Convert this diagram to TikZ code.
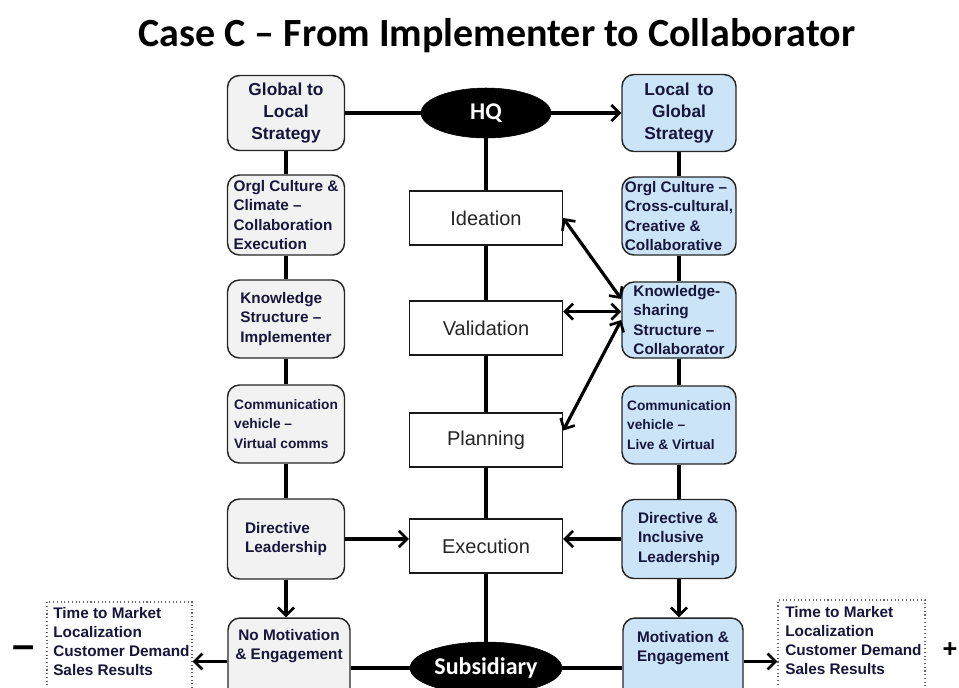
\documentclass[tikz,border=0pt]{standalone}
\usepackage{fontspec}
\setmainfont{Liberation Sans}
\newfontfamily\calibri{Carlito}
\usetikzlibrary{shapes.geometric,arrows.meta}
\definecolor{grayfill}{RGB}{242,242,242}
\definecolor{bluefill}{RGB}{204,228,248}
\definecolor{navy}{RGB}{22,22,60}
\begin{document}
\begin{tikzpicture}[x=0.75pt,y=-0.75pt,
 sidebox/.style={draw=black!85, line width=1.1pt, rounded corners=9pt, inner sep=0pt},
 lbox/.style={sidebox, fill=grayfill},
 rbox/.style={sidebox, fill=bluefill},
 lbl/.style={font=\bfseries\fontsize{11.5}{14.5}\selectfont, text=navy, align=left},
 smlbl/.style={font=\bfseries\fontsize{10.3}{14.5}\selectfont, text=navy, align=left},
 clbl/.style={font=\bfseries\fontsize{13}{16.3}\selectfont, text=navy, align=center},
 stage/.style={draw=black!90, line width=1pt, fill=white, minimum width=114.75pt, minimum height=40.5pt, inner sep=0pt, font=\fontsize{15}{18}\selectfont, text=black!85},
 hub/.style={ellipse, fill=black, draw=black, text=white, font=\calibri\bfseries\fontsize{18}{21}\selectfont, inner sep=0pt},
 conn/.style={line width=2.4pt, draw=black},
 arr/.style={conn, -{Straight Barb[length=6pt,width=12pt,line width=2pt]}},
 darr/.style={conn, {Straight Barb[length=6pt,width=12pt,line width=2pt]}-{Straight Barb[length=6pt,width=12pt,line width=2pt]}},
 result/.style={draw=black!60, dotted, line width=0.8pt, fill=white, inner sep=0pt},
 rtext/.style={font=\bfseries\fontsize{11.5}{14.3}\selectfont, text=navy, align=left, anchor=north west, inner sep=0pt},
 sign/.style={font=\bfseries\fontsize{30}{34}\selectfont, text=black, inner sep=0pt}
]
\useasboundingbox (0,0) rectangle (959,687);
\fill[white] (0,0) rectangle (959,687);
\clip (0,0) rectangle (959,687);

% title
\node[font=\calibri\bfseries\fontsize{30}{36}\selectfont, inner sep=0pt] (title) at (497,36) {Case C – From Implementer to Collaborator};

% left column
\node[lbox, clbl, minimum width=87.75pt, minimum height=56.25pt] (g2l) at (286,113) {Global to\\Local\\Strategy};
\node[lbox, lbl, minimum width=87.75pt, minimum height=60pt] (l2) at (286,215) {Orgl Culture \&\\Climate –\\Collaboration\\Execution};
\node[lbox, lbl, minimum width=87.75pt, minimum height=58.5pt] (l3) at (286,319) {Knowledge\\Structure –\\Implementer};
\node[lbox, smlbl, minimum width=87.75pt, minimum height=58.5pt] (l4) at (286,424) {Communication\\vehicle –\\Virtual comms};
\node[lbox, lbl, minimum width=87.75pt, minimum height=60pt] (l5) at (286,539) {Directive\\Leadership};
\node[lbox, minimum width=91.5pt, minimum height=65.25pt] (nmbox) at (289,661.5) {};
\node[clbl, font=\bfseries\fontsize{11.5}{14}\selectfont, inner sep=0pt] (nmtext) at (289,646) {No Motivation\\\& Engagement};

% right column
\node[rbox, clbl, minimum width=85.5pt, minimum height=57.75pt] (l2g) at (679,113) {Local\, to\\Global\\Strategy};
\node[rbox, lbl, minimum width=85.5pt, minimum height=58.5pt] (r2) at (679,216) {Orgl Culture –\\Cross-cultural,\\Creative \&\\Collaborative};
\node[rbox, lbl, minimum width=85.5pt, minimum height=57pt] (ks) at (679,320) {Knowledge-\\sharing\\Structure –\\Collaborator};
\node[rbox, smlbl, minimum width=85.5pt, minimum height=58.5pt] (r4) at (679,425) {Communication\\vehicle –\\Live \& Virtual};
\node[rbox, lbl, minimum width=85.5pt, minimum height=59.25pt] (r5) at (679,539) {Directive \&\\Inclusive\\Leadership};
\node[rbox, minimum width=90pt, minimum height=65.25pt] (mbox) at (683,661.5) {};
\node[clbl, font=\bfseries\fontsize{11.5}{14}\selectfont, inner sep=0pt] (mtext) at (683,648) {Motivation \&\\Engagement};

% centre
\node[hub, minimum width=97.5pt, minimum height=37.5pt] (hq) at (486,113) {HQ};
\node[stage] (idea) at (486,218) {Ideation};
\node[stage] (valid) at (486,328) {Validation};
\node[stage] (plan) at (486,440) {Planning};
\node[stage] (exec) at (486,546) {Execution};
\node[hub, minimum width=114pt, minimum height=39pt] (sub) at (486,668) {Subsidiary};

% results
\node[result, minimum width=108.75pt, minimum height=73.5pt] (res1) at (119.5,651) {};
\node[rtext] (res1t) at (53,607) {Time to Market\\Localization\\Customer Demand\\Sales Results};
\node[result, minimum width=110.25pt, minimum height=75pt] (res2) at (851.5,650) {};
\node[rtext] (res2t) at (785,606) {Time to Market\\Localization\\Customer Demand\\Sales Results};
\node[sign] (minus) at (24,652) {–};
\node[sign, font=\bfseries\fontsize{19}{22}\selectfont] (plus) at (950,650) {+};

% connectors
\draw[conn] (g2l) -- (hq);
\draw[arr] (hq) -- (l2g);
\draw[conn] (g2l) -- (l2);
\draw[conn] (l2) -- (l3);
\draw[conn] (l3) -- (l4);
\draw[conn] (l4) -- (l5);
\draw[arr] (l5.south) -- (l5.south |- nmbox.north);
\draw[conn] (l2g) -- (r2);
\draw[conn] (r2) -- (ks);
\draw[conn] (ks) -- (r4);
\draw[conn] (r4) -- (r5);
\draw[arr] (r5.south) -- (r5.south |- mbox.north);
\draw[conn] (hq) -- (idea);
\draw[conn] (idea) -- (valid);
\draw[conn] (valid) -- (plan);
\draw[conn] (plan) -- (exec);
\draw[conn] (exec) -- (sub);
\draw[arr] (l5.east) -- (l5.east -| exec.west);
\draw[arr] (r5.west) -- (r5.west -| exec.east);
\draw[darr] (idea.east) -- (ks.160);
\draw[darr] (valid.12) -- (valid.12 -| ks.west);
\draw[darr] (plan.7) -- (ks.west);
\draw[conn] (sub.west -| nmbox.east) -- (sub.west);
\draw[conn] (sub.east) -- (sub.east -| mbox.west);
\draw[arr] (nmbox.west) -- (nmbox.west -| res1.east);
\draw[arr] (mbox.east) -- (mbox.east -| res2.west);
\end{tikzpicture}
\end{document}
